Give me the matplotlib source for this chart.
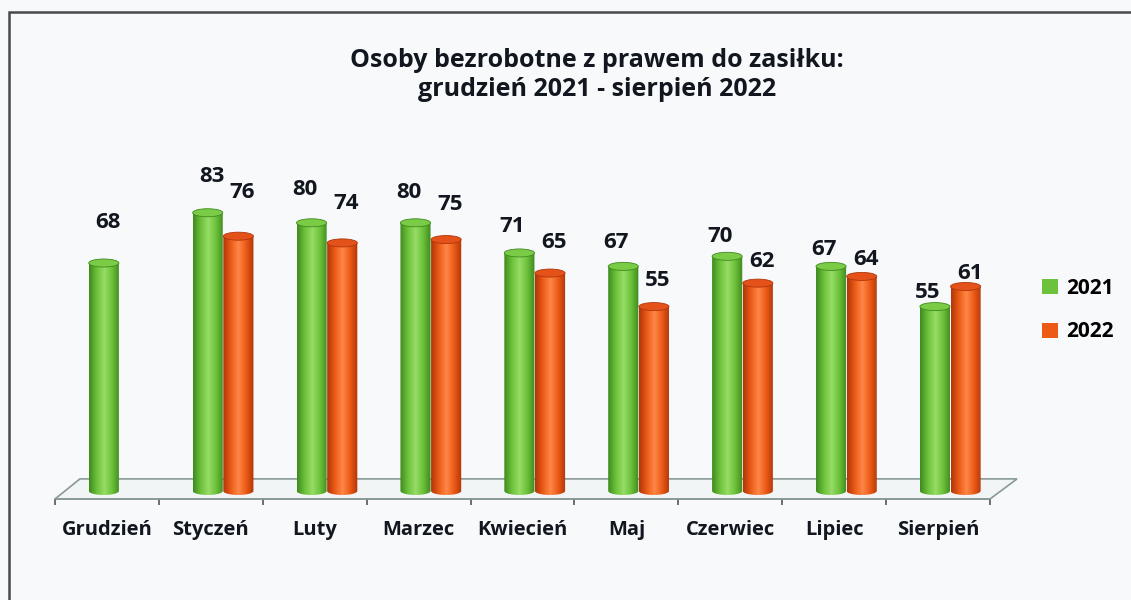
import numpy as np
import matplotlib
matplotlib.use('Agg')
import matplotlib.pyplot as plt
from matplotlib.patches import Ellipse, Polygon, Patch, Rectangle
from matplotlib.path import Path
from matplotlib.colors import LinearSegmentedColormap

# data
months = ['Grudzień', 'Styczeń', 'Luty', 'Marzec', 'Kwiecień', 'Maj', 'Czerwiec', 'Lipiec', 'Sierpień']
vals_2021 = [68, 83, 80, 80, 71, 67, 70, 67, 55]
vals_2022 = [None, 76, 74, 75, 65, 55, 62, 64, 61]
series_names = ['2021', '2022']

plt.rcParams['font.family'] = ['Open Sans', 'DejaVu Sans']
plt.rcParams['font.weight'] = 'bold'

GREEN = ('#6cc23a', '#3f8a1f', '#98dc68', '#7acb45')
ORANGE = ('#ec5a16', '#b0360b', '#ff8848', '#e4521a')
TXT = '#12161e'

fig = plt.figure(figsize=(11.31, 6), dpi=100, facecolor='#f7f9fb')
ax = fig.add_axes([55 / 1131, 101 / 600, 935 / 1131, 360 / 600])
ax.set_facecolor('none')

bw = 0.29
eh = 2.4
off = {0: -0.03, 1: 0.265}


def cylinder(xc, h, col, z):
    base, dark, light, top = col
    cmap = LinearSegmentedColormap.from_list('c', [dark, base, light, base, dark])
    x0, x1 = xc - bw / 2, xc + bw / 2
    t = np.linspace(np.pi, 2 * np.pi, 40)
    arc = np.column_stack([xc + bw / 2 * np.cos(t), eh / 2 * np.sin(t)])
    verts = np.vstack([[x0, h], arc, [x1, h], [x0, h]])
    path = Path(verts, closed=True)
    grad = np.linspace(0, 1, 64).reshape(1, -1)
    im = ax.imshow(grad, cmap=cmap, extent=[x0, x1, -eh / 2, h], aspect='auto',
                   zorder=z, interpolation='bilinear')
    im.set_clip_path(path, ax.transData)
    ax.add_patch(Ellipse((xc, h), bw, eh, facecolor=top, edgecolor=dark, lw=0.6, zorder=z + 0.1))


# floor
floor = Polygon([(-0.5, -2.4), (8.5, -2.4), (8.76, 3.6), (-0.26, 3.6)], closed=True,
                facecolor='#f2f5f5', edgecolor='#8a9898', lw=1.2, clip_on=False, zorder=1)
ax.add_patch(floor)

for i in range(len(months)):
    for s, (vals, col) in enumerate([(vals_2021, GREEN), (vals_2022, ORANGE)]):
        v = vals[i]
        if v is None:
            continue
        xc = i + off[s]
        cylinder(xc, v, col, 3 + s)
        # labels sit higher on the left, like the perspective of the original
        if s == 0:
            gap = max(9, 36 - 3.3 * i)
            dx = -7 if i > 1 else 4
        else:
            gap = max(9, 44 - 4.4 * i)
            dx = 4
        ax.annotate(str(v), (xc, v + eh / 2), xytext=(dx * 0.72, gap * 0.72),
                    textcoords='offset points', ha='center', va='center',
                    fontsize=16, fontweight='bold', color=TXT, zorder=10)

ax.set_xlim(-0.5, 8.5)
ax.set_ylim(-2.4, 105)
ax.set_xticks(np.arange(len(months)))
ax.set_xticklabels(months, fontsize=14.5, fontweight='bold', color=TXT)
ax.set_xticks(np.arange(-0.5, len(months), 1), minor=True)
ax.tick_params(axis='x', which='major', length=0, pad=15)
ax.tick_params(axis='x', which='minor', length=4.5, width=1.2, color='#555')
ax.set_yticks([])
for sp in ['top', 'right', 'left']:
    ax.spines[sp].set_visible(False)
ax.spines['bottom'].set_color('#8a9898')
ax.spines['bottom'].set_linewidth(1.2)

fig.text(597 / 1131, 1 - 75 / 600, 'Osoby bezrobotne z prawem do zasiłku:\ngrudzień 2021 - sierpień 2022',
         ha='center', va='center', fontsize=18, fontweight='bold', color=TXT, linespacing=1.18)

handles = [Patch(facecolor=GREEN[0], edgecolor='none'), Patch(facecolor=ORANGE[0], edgecolor='none')]
fig.legend(handles, series_names, loc='center left', bbox_to_anchor=(1042 / 1131, 1 - 310 / 600),
           frameon=False, handlelength=0.75, handleheight=0.75, handletextpad=0.4,
           labelspacing=1.1, borderpad=0, borderaxespad=0, prop={'weight': 'bold', 'size': 15})

# outer frame of the scanned chart
fig.patches.append(Rectangle((9 / 1131, -0.05), 1.2, 1 - 12 / 600 + 0.05, transform=fig.transFigure,
                             fill=False, edgecolor='#4a4a4a', lw=1.8))

fig.savefig('out.png', dpi=100, facecolor=fig.get_facecolor())
